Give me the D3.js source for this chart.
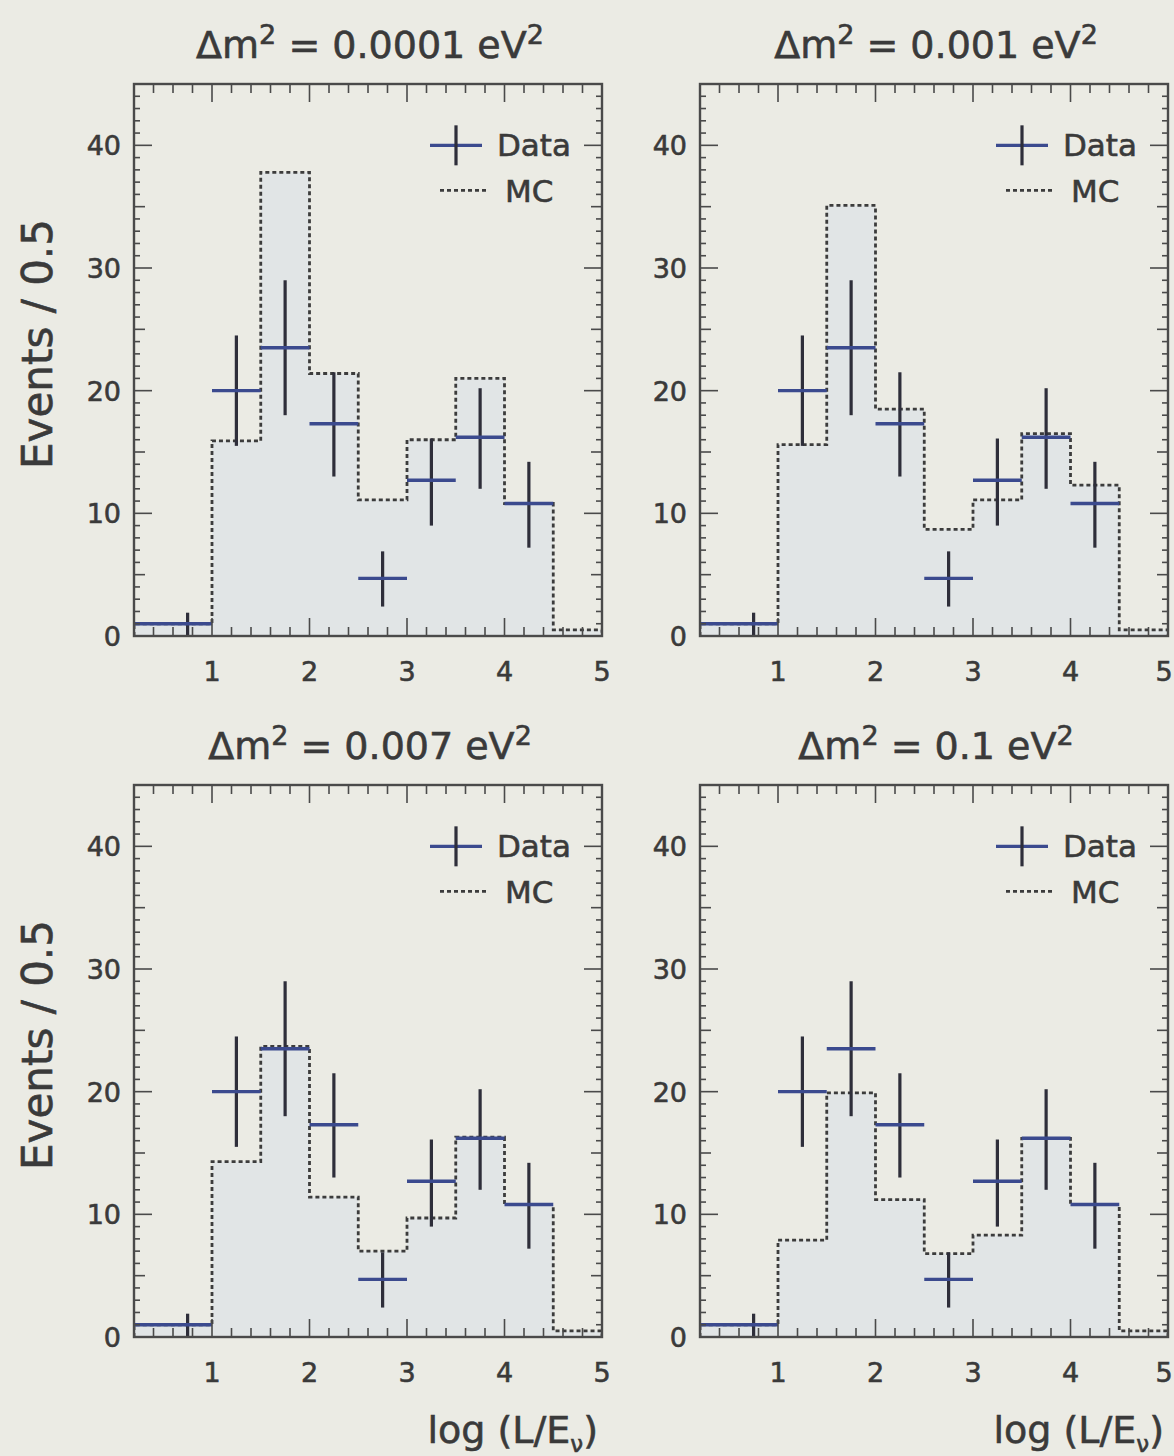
<!DOCTYPE html>
<html>
<head>
<meta charset="utf-8">
<script src="https://cdn.jsdelivr.net/npm/d3@7"></script>
<style>
  body { margin: 0; background: #ebebe4; }
  svg { display: block; font-family: "DejaVu Sans", Verdana, sans-serif; }
</style>
</head>
<body>
<div id="chart"></div>
<script>
// shared data points (same in every panel)
const dataCenters = [0.75, 1.25, 1.75, 2.25, 2.75, 3.25, 3.75, 4.25];
const dataBinLo = [0.2, 1, 1.5, 2, 2.5, 3, 3.5, 4];
const dataBinHi = [1, 1.5, 2, 2.5, 3, 3.5, 4, 4.5];
const dataValues = [1, 20, 23.5, 17.3, 4.7, 12.7, 16.2, 10.8];
const dataLow = [0, 15.5, 18, 13, 2.4, 9, 12, 7.2];
const dataHigh = [1.9, 24.5, 29, 21.5, 6.9, 16.1, 20.2, 14.2];

// MC histogram bin edges and contents per panel
const mcEdges = [0.2, 1, 1.5, 2, 2.5, 3, 3.5, 4, 4.5, 5];
const mc0001 = [1, 15.9, 37.8, 21.4, 11.1, 16, 21, 10.8, 0.5];
const mc001 = [1, 15.6, 35.1, 18.5, 8.7, 11.1, 16.5, 12.3, 0.5];
const mc007 = [1, 14.3, 23.7, 11.4, 7, 9.7, 16.3, 10.8, 0.5];
const mc1 = [1, 7.9, 19.9, 11.2, 6.8, 8.3, 16.2, 10.8, 0.5];

const titles = ["0.0001", "0.001", "0.007", "0.1"];
const mcSets = [mc0001, mc001, mc007, mc1];

const xTicks = [1, 2, 3, 4, 5];
const yTicks = [0, 10, 20, 30, 40];

const width = 1174, height = 1456;
const plotW = 468, plotH = 552;
const origins = [[134, 84], [700, 84], [134, 785], [700, 785]];

const svg = d3.select('#chart').append('svg')
    .attr('width', width)
    .attr('height', height);

svg.append('rect').attr('width', width).attr('height', height).attr('fill', '#ebebe4');

const x = d3.scaleLinear().domain([0.2, 5]).range([0, plotW]);
const y = d3.scaleLinear().domain([0, 45]).range([plotH, 0]);

const textColor = '#3a3a3a';
const frameColor = '#4a4a4a';

// scanned text looks a bit heavier than regular weight
function ink(sel) {
  return sel.attr('fill', textColor)
      .attr('stroke', textColor)
      .attr('stroke-width', 0.6);
}

svg.append('defs').append('clipPath')
    .attr('id', 'plot-clip')
  .append('rect')
    .attr('width', plotW)
    .attr('height', plotH);

mcSets.forEach((mc, i) => {
  const [ox, oy] = origins[i];
  const g = svg.append('g').attr('transform', `translate(${ox},${oy})`);

  // title
  const t = g.append('text')
      .attr('x', plotW / 2 + 2)
      .attr('y', -26)
      .attr('text-anchor', 'middle')
      .attr('font-size', 38)
      .call(ink);
  t.append('tspan').text('\u0394m');
  t.append('tspan').attr('font-size', 27).attr('dy', -14).text('2');
  t.append('tspan').attr('dy', 14).text(` = ${titles[i]} eV`);
  t.append('tspan').attr('font-size', 27).attr('dy', -14).text('2');

  const inner = g.append('g').attr('clip-path', 'url(#plot-clip)');

  // MC histogram as a step path
  const steps = [];
  mc.forEach((v, j) => {
    steps.push([mcEdges[j], v]);
    steps.push([mcEdges[j + 1], v]);
  });
  const area = d3.area()
      .x(d => x(d[0]))
      .y0(y(0))
      .y1(d => y(d[1]));
  const line = d3.line()
      .x(d => x(d[0]))
      .y(d => y(d[1]));

  inner.append('path')
      .attr('d', area(steps))
      .attr('fill', '#e1e5e6');

  const outline = [[mcEdges[0], 0]].concat(steps, [[mcEdges[mcEdges.length - 1], 0]]);
  inner.append('path')
      .attr('d', line(outline))
      .attr('fill', 'none')
      .attr('stroke', '#3c3c3c')
      .attr('stroke-width', 2.8)
      .attr('stroke-dasharray', '4,3');

  // data points with error bars
  const pts = inner.selectAll('.pt')
      .data(dataCenters.map((c, j) => ({c, lo: dataBinLo[j], hi: dataBinHi[j], v: dataValues[j], el: dataLow[j], eh: dataHigh[j]})))
    .join('g')
      .attr('class', 'pt');
  pts.append('line')
      .attr('x1', d => x(d.c)).attr('x2', d => x(d.c))
      .attr('y1', d => y(d.el)).attr('y2', d => y(d.eh))
      .attr('stroke', '#2e2e3a')
      .attr('stroke-width', 3.2);
  pts.append('line')
      .attr('x1', d => x(d.lo)).attr('x2', d => x(d.hi))
      .attr('y1', d => y(d.v)).attr('y2', d => y(d.v))
      .attr('stroke', '#3b4a8e')
      .attr('stroke-width', 3.4);

  // ticks on all four sides, pointing inward
  const xMinor = d3.range(0.2, 5.001, 0.2);
  const yMinor = d3.range(0, 45.001, 1);
  const tickG = g.append('g').attr('stroke', frameColor).attr('stroke-width', 1.6);
  xMinor.forEach(v => {
    const major = Math.abs(v - Math.round(v)) < 1e-6;
    const len = major ? 18 : 9;
    tickG.append('line').attr('x1', x(v)).attr('x2', x(v)).attr('y1', plotH).attr('y2', plotH - len);
    tickG.append('line').attr('x1', x(v)).attr('x2', x(v)).attr('y1', 0).attr('y2', len);
  });
  yMinor.forEach(v => {
    const len = v % 10 === 0 ? 18 : (v % 5 === 0 ? 11 : 6);
    tickG.append('line').attr('x1', 0).attr('x2', len).attr('y1', y(v)).attr('y2', y(v));
    tickG.append('line').attr('x1', plotW).attr('x2', plotW - len).attr('y1', y(v)).attr('y2', y(v));
  });

  // frame
  g.append('rect')
      .attr('width', plotW)
      .attr('height', plotH)
      .attr('fill', 'none')
      .attr('stroke', frameColor)
      .attr('stroke-width', 2.4);

  // tick labels (last one pulled in a little so it stays inside the page)
  g.selectAll('.xl')
      .data(xTicks)
    .join('text')
      .attr('class', 'xl')
      .attr('x', d => x(d) - (d === 5 && ox + plotW > width - 12 ? 4 : 0))
      .attr('y', plotH + 45)
      .attr('text-anchor', 'middle')
      .attr('font-size', 27)
      .call(ink)
      .text(d => d);
  g.selectAll('.yl')
      .data(yTicks)
    .join('text')
      .attr('class', 'yl')
      .attr('x', -13)
      .attr('y', d => y(d) + 10)
      .attr('text-anchor', 'end')
      .attr('font-size', 27)
      .call(ink)
      .text(d => d);

  // legend
  const lg = g.append('g').attr('transform', `translate(${plotW - 146},${y(40)})`);
  lg.append('line').attr('x1', -26).attr('x2', 26).attr('y1', 0).attr('y2', 0)
      .attr('stroke', '#3b4a8e').attr('stroke-width', 3.4);
  lg.append('line').attr('x1', 0).attr('x2', 0).attr('y1', -20).attr('y2', 20)
      .attr('stroke', '#2e2e3a').attr('stroke-width', 3.2);
  lg.append('text').attr('x', 41).attr('y', 11).attr('font-size', 31).call(ink).text('Data');
  lg.append('line').attr('x1', -16).attr('x2', 30).attr('y1', 45).attr('y2', 45)
      .attr('stroke', '#3c3c3c').attr('stroke-width', 2.8).attr('stroke-dasharray', '4,3');
  lg.append('text').attr('x', 49).attr('y', 57).attr('font-size', 31).call(ink).text('MC');

  // axis titles
  if (i % 2 === 0) {
    g.append('text')
        .attr('transform', `translate(${-82},${plotH / 2 - 16}) rotate(-90)`)
        .attr('text-anchor', 'middle')
        .attr('font-size', 42)
        .call(ink)
        .text('Events / 0.5');
  }
  if (i >= 2) {
    const xt = g.append('text')
        .attr('x', plotW - 4)
        .attr('y', plotH + 106)
        .attr('text-anchor', 'end')
        .attr('font-size', 38)
        .call(ink);
    xt.append('tspan').text('log (L/E');
    xt.append('tspan').attr('font-size', 23).attr('dy', 9).text('\u03bd');
    xt.append('tspan').attr('dy', -9).text(')');
  }
});
</script>
</body>
</html>
